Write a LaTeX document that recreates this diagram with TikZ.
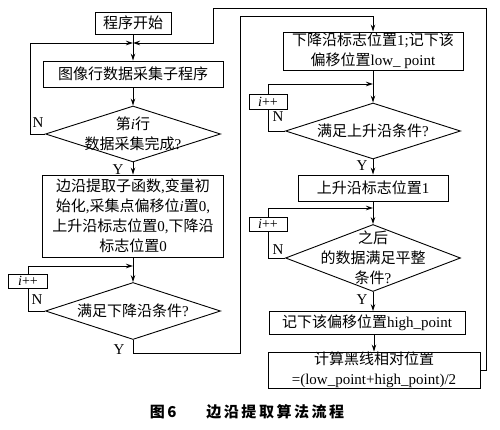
\documentclass[tikz,border=0pt]{standalone}
\usepackage{fontspec}
\setmainfont{Liberation Serif}
\newfontfamily\cjk{Noto Sans CJK SC}
\newfontfamily\capfont[LetterSpace=17]{Noto Sans CJK SC}
\usetikzlibrary{shapes.geometric,arrows.meta}
\tikzstyle{procbox}=[draw,line width=0.9pt,inner sep=0pt,align=center]
\tikzstyle{decision}=[diamond,draw,line width=0.9pt,inner sep=0pt]
\tikzstyle{dectext}=[inner sep=0pt,align=center]
\tikzstyle{incbox}=[draw,line width=0.9pt,inner sep=0pt,font=\fontsize{14}{15}\selectfont]
\tikzstyle{flow}=[line width=0.9pt,-{Stealth[length=7pt,width=4.5pt]}]
\tikzstyle{wire}=[line width=0.9pt]
\tikzstyle{yn}=[inner sep=0pt]
\newcommand{\cn}[1]{{\cjk #1}}

\begin{document}
\begin{tikzpicture}[x=1pt,y=-1pt,font=\fontsize{15}{20}\selectfont]
    \useasboundingbox (0,0) rectangle (500,430);
% left column
    \node[procbox,minimum width=76pt,minimum height=22pt] (start) at (133,23) {\cn{程序开始}};
    \node[procbox,minimum width=180pt,minimum height=26pt] (img) at (133,74) {\cn{图像行数据采集子程序}};
    \node[decision,minimum width=175pt,minimum height=56pt] (d1) at (133,134) {};
    \node[dectext] (d1t) at (d1) {\cn{第}\textit{i}\cn{行}\\\cn{数据采集完成}?};
    \node[procbox,minimum width=181pt,minimum height=82pt] (init) at (133,216)
        {\cn{边沿提取子函数},\cn{变量初}\\\cn{始化},\cn{采集点偏移位}\textit{i}\cn{置}0,\\\cn{上升沿标志位置}0,\cn{下降沿}\\\cn{标志位置}0};
    \node[incbox,minimum width=39pt,minimum height=14pt] (ipp1) at (28,281) {\textit{i}++};
    \node[decision,minimum width=175pt,minimum height=57pt] (d2) at (133,311) {};
    \node[dectext] (d2t) at (d2) {\cn{满足下降沿条件}?};
% right column
    \node[procbox,minimum width=180pt,minimum height=38pt] (fall) at (373,51) {\cn{下降沿标志位置}1;\cn{记下该}\\\cn{偏移位置}low\_ point};
    \node[incbox,minimum width=38pt,minimum height=15pt] (ipp2) at (268,102) {\textit{i}++};
    \node[decision,minimum width=175pt,minimum height=56pt] (d3) at (373,131) {};
    \node[dectext] (d3t) at (d3) {\cn{满足上升沿条件}?};
    \node[procbox,minimum width=150pt,minimum height=26pt] (rise) at (373,188) {\cn{上升沿标志位置}1};
    \node[incbox,minimum width=38pt,minimum height=14pt] (ipp3) at (268,224) {\textit{i}++};
    \node[decision,minimum width=175pt,minimum height=67pt] (d4) at (373,258) {};
    \node[dectext] (d4t) at (d4) {\cn{之后}\\\cn{的数据满足平整}\\\cn{条件}?};
    \node[procbox,minimum width=196pt,minimum height=23pt] (high) at (367,323) {\cn{记下该偏移位置}high\_point};
    \node[procbox,minimum width=212pt,minimum height=35pt] (calc) at (374,370) {\cn{计算黑线相对位置}\\=(low\_point+high\_point)/2};
% labels
    \node[yn] (n1) at (38,123) {N};
    \node[yn] (y1l) at (118,170) {Y};
    \node[yn] (n2) at (37,300) {N};
    \node[yn] (y2l) at (119,350) {Y};
    \node[yn] (n3) at (278,117) {N};
    \node[yn] (y3l) at (362,166) {Y};
    \node[yn] (n4) at (278,250) {N};
    \node[yn] (y4l) at (362,300) {Y};
    \node[font=\capfont\bfseries\fontsize{15}{15}\selectfont] (cap) at (247,412) {图\,6\qquad 边沿提取算法流程};
% corner points
    \coordinate (m1) at (133,43);
    \coordinate (l1) at (30,43);
    \coordinate (r1) at (486,8);
    \coordinate (r2) at (213,43);
    \coordinate (m2) at (133,266);
    \coordinate (c1) at (240,353);
    \coordinate (c2) at (373,16);
    \coordinate (m3) at (373,84);
    \coordinate (m4) at (373,208);
% connectors
    \draw[flow] (start) -- (img);
    \draw[flow] (img) -- (d1);
    \draw[flow] (d1.west) -| (l1) -- (m1);
    \draw[flow] (d1) -- (init);
    \draw[flow] (init) -- (d2);
    \draw[wire] (d2.west) -| (ipp1.south);
    \draw[flow] (ipp1.north) |- (m2);
    \draw[flow] (d2.south) |- (c1) |- (c2) -- (fall.north);
    \draw[flow] (fall) -- (d3);
    \draw[wire] (d3.west) -| (ipp2.south);
    \draw[flow] (ipp2.north) |- (m3);
    \draw[flow] (d3) -- (rise);
    \draw[flow] (rise) -- (d4);
    \draw[wire] (d4.west) -| (ipp3.south);
    \draw[flow] (ipp3.north) |- (m4);
    \draw[flow] (d4.south) -- (d4.south |- high.north);
    \draw[flow] (high.south -| calc.north) -- (calc.north);
    \draw[flow] (calc.east) -| (r1) -| (r2) -- (m1);
\end{tikzpicture}
\end{document}
